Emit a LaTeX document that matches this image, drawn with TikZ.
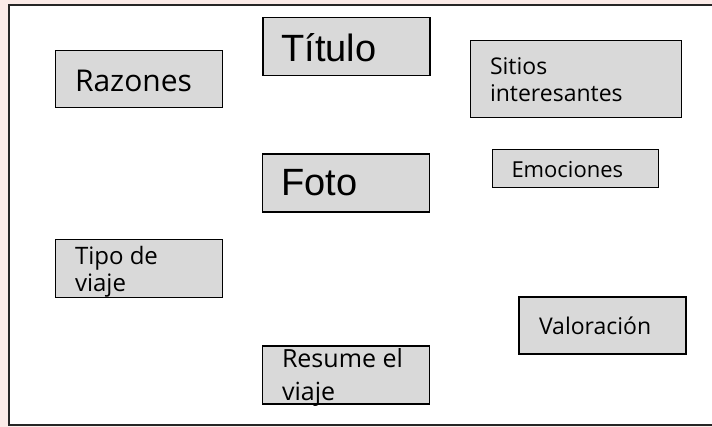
\documentclass[tikz,border=0pt]{standalone}
\usepackage{fontspec}
\setmainfont{Open Sans}
\newfontfamily\arialfont{Liberation Sans}
\definecolor{bgpink}{HTML}{FBEBE8}
\definecolor{boxgray}{HTML}{D9D9D9}
\begin{document}
\begin{tikzpicture}[x=1pt,y=-1pt,
  box/.style={draw=black,line width=1.8pt,fill=boxgray,rectangle,anchor=north west,inner sep=0pt,outer sep=0pt},
  lbl/.style={anchor=base west,inner sep=0pt,outer sep=0pt},
  big/.style={lbl,font=\arialfont\fontsize{38}{42}\selectfont},
  sm/.style={lbl,font=\fontsize{#1}{#1}\selectfont}]
\useasboundingbox (0,0) rectangle (712,427);
\fill[bgpink] (0,0) rectangle (712,427);
\fill[white] (9,5) rectangle (712,425);
\draw[line width=1.8pt,black!85] (712,5) -- (9,5) -- (9,425) -- (712,425);
% boxes
\node[box,minimum width=167pt,minimum height=57pt] (razB) at (55.5,50.5) {};
\node[box,minimum width=167pt,minimum height=58pt] (titB) at (263,17.5) {};
\node[box,minimum width=211pt,minimum height=77pt] (sitB) at (470.5,40.5) {};
\node[box,minimum width=167pt,minimum height=58pt] (fotB) at (262.5,154) {};
\node[box,minimum width=166pt,minimum height=38pt] (emoB) at (492.5,149.5) {};
\node[box,minimum width=167pt,minimum height=58pt] (tipB) at (55.5,239.5) {};
\node[box,minimum width=167pt,minimum height=57pt] (valB) at (519,297) {};
\node[box,minimum width=167pt,minimum height=58pt] (resB) at (262.5,346) {};
% labels
\node[sm=30] (razT) at (75,92) {Razones};
\node[big] (titT) at (281.5,61.5) {Título};
\node[sm=23] (sitT1) at (490,75) {Sitios};
\node[sm=23] (sitT2) at (490,101.5) {interesantes};
\node[big] (fotT) at (281.5,196) {Foto};
\node[sm=22] (emoT) at (511.5,178) {Emociones};
\node[sm=24] (tipT1) at (75,265) {Tipo de};
\node[sm=24] (tipT2) at (75,291.5) {viaje};
\node[sm=23] (valT) at (539,335) {Valoración};
\node[sm=25] (resT1) at (282,368) {Resume el};
\node[sm=25] (resT2) at (282,400.5) {viaje};
\end{tikzpicture}
\end{document}
